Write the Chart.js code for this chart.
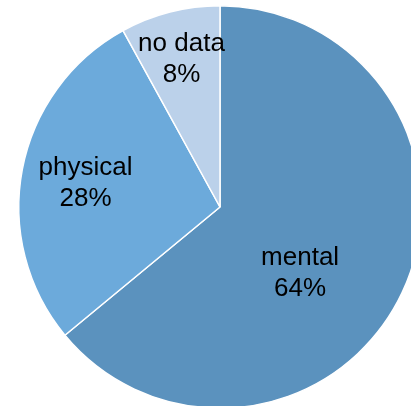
<!DOCTYPE html>
<html><head><meta charset="utf-8">
<script src="https://cdn.jsdelivr.net/npm/chart.js@4.4.1/dist/chart.umd.min.js"></script>
<style>html,body{margin:0;padding:0;background:#fff;overflow:hidden}#wrap{width:411px;height:406px;overflow:hidden;position:relative}</style>
</head><body><div id="wrap"><canvas id="c" width="440" height="414"></canvas></div>
<script>
const categories = ["mental", "physical", "no data"];
const values = [64, 28, 8];
const colors = ["#5b92be", "#6caadb", "#bbd1ea"];
// label placement: fraction of radius, angle shift (deg) from slice middle
const labelRadius = [0.51, 0.68, 0.77];
const labelAngleShift = [13.5, 0, 0];

const labelPlugin = {
  id: 'sliceLabels',
  afterDatasetsDraw(chart) {
    const ctx = chart.ctx;
    const meta = chart.getDatasetMeta(0);
    const total = values.reduce((a, b) => a + b, 0);
    ctx.save();
    ctx.font = '26px "Liberation Sans", Arial, sans-serif';
    ctx.fillStyle = '#000';
    ctx.textAlign = 'center';
    ctx.textBaseline = 'middle';
    meta.data.forEach((arc, i) => {
      const p = arc.getProps(['x', 'y', 'startAngle', 'endAngle', 'outerRadius'], true);
      const mid = (p.startAngle + p.endAngle) / 2 + labelAngleShift[i] * Math.PI / 180;
      const r = p.outerRadius * labelRadius[i];
      const x = p.x + Math.cos(mid) * r;
      const y = p.y + Math.sin(mid) * r + 2;
      const pct = Math.round(values[i] / total * 100) + '%';
      ctx.fillText(categories[i], x, y - 15.5);
      ctx.fillText(pct, x, y + 15.5);
    });
    ctx.restore();
  }
};

new Chart(document.getElementById('c'), {
  type: 'pie',
  data: { labels: categories, datasets: [{ data: values, backgroundColor: colors, borderColor: '#ffffff', borderWidth: 1.5 }] },
  options: {
    responsive: false,
    animation: false,
    layout: { padding: 5 },
    plugins: { legend: { display: false }, tooltip: { enabled: false } }
  },
  plugins: [labelPlugin]
});
</script></body></html>
